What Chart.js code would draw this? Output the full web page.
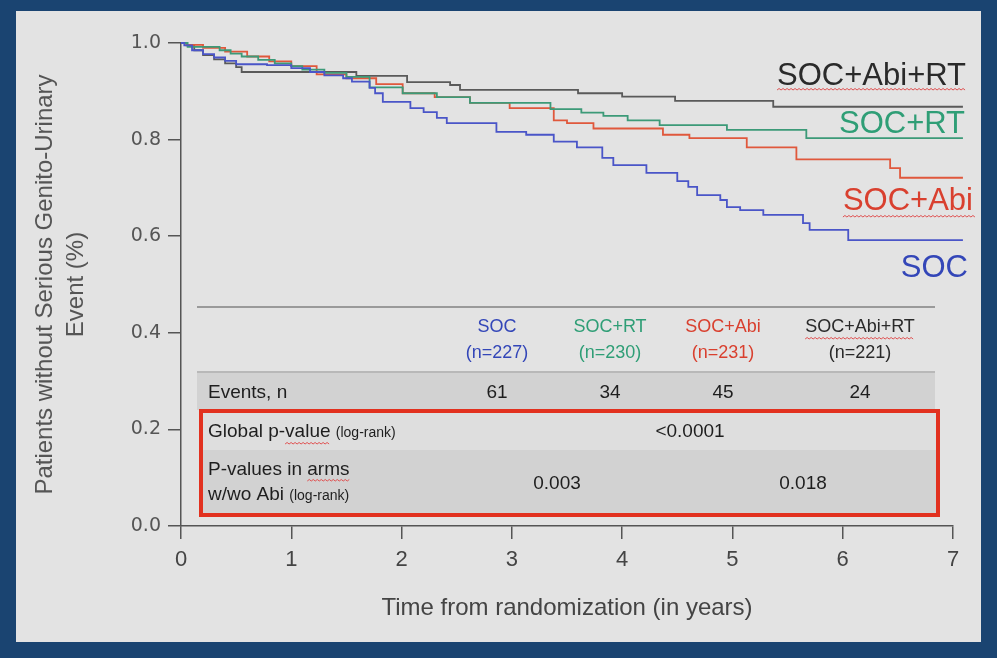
<!DOCTYPE html>
<html>
<head>
<meta charset="utf-8">
<script src="https://cdn.jsdelivr.net/npm/chart.js@4"></script>
<style>
  body { margin: 0; background: #1a4471; }
  #wrap { width: 997px; height: 658px; position: relative; }
</style>
</head>
<body>
<div id="wrap"><canvas id="myChart"></canvas></div>
<script>
// Kaplan-Meier curves (time in years, survival proportion)
const armNames = ['SOC', 'SOC+RT', 'SOC+Abi', 'SOC+Abi+RT'];
const armN = [227, 230, 231, 221];
const armEvents = [61, 34, 45, 24];
const globalP = '<0.0001';
const abiPValues = ['0.003', '0.018'];

const timesSOC = [0, 0.03, 0.1, 0.2, 0.3, 0.4, 0.5, 0.78, 1.0, 1.17, 1.3, 1.47, 1.55, 1.71, 1.76, 1.83, 2.08, 2.2, 2.32, 2.41, 2.86, 3.13, 3.38, 3.59, 3.82, 3.92, 4.22, 4.5, 4.6, 4.68, 4.89, 4.95, 5.07, 5.28, 5.64, 5.7, 6.05, 7.09];
const survSOC = [1, 0.995, 0.985, 0.977, 0.97, 0.963, 0.956, 0.954, 0.948, 0.94, 0.933, 0.927, 0.92, 0.907, 0.896, 0.878, 0.865, 0.857, 0.845, 0.834, 0.816, 0.81, 0.796, 0.784, 0.762, 0.747, 0.731, 0.714, 0.702, 0.685, 0.675, 0.66, 0.654, 0.644, 0.627, 0.613, 0.592, 0.592];

const timesRT = [0, 0.06, 0.35, 0.45, 0.55, 0.7, 0.85, 1.0, 1.1, 1.3, 1.5, 1.71, 2.01, 2.32, 2.62, 3.35, 3.63, 3.83, 4.05, 4.34, 4.95, 5.67, 7.09];
const survRT = [1, 0.992, 0.985, 0.978, 0.972, 0.965, 0.958, 0.952, 0.945, 0.938, 0.93, 0.908, 0.896, 0.888, 0.876, 0.863, 0.856, 0.849, 0.84, 0.83, 0.82, 0.803, 0.803];

const timesAbi = [0, 0.05, 0.2, 0.4, 0.6, 0.8, 1.0, 1.23, 1.5, 1.77, 2.01, 2.3, 2.62, 2.98, 3.38, 3.5, 3.74, 4.37, 4.61, 5.13, 5.58, 6.43, 6.52, 7.09];
const survAbi = [1, 0.996, 0.99, 0.982, 0.972, 0.962, 0.952, 0.935, 0.927, 0.915, 0.896, 0.888, 0.876, 0.865, 0.84, 0.834, 0.823, 0.81, 0.803, 0.784, 0.759, 0.741, 0.721, 0.721];

const timesAbiRT = [0, 0.05, 0.12, 0.2, 0.3, 0.4, 0.5, 0.55, 1.59, 2.05, 2.44, 2.53, 3.6, 4.0, 4.48, 5.37, 7.09];
const survAbiRT = [1, 0.995, 0.985, 0.975, 0.966, 0.958, 0.95, 0.94, 0.932, 0.919, 0.913, 0.903, 0.896, 0.889, 0.88, 0.868, 0.868];

const xTicks = [0, 1, 2, 3, 4, 5, 6, 7];
const yTicks = [0, 0.2, 0.4, 0.6, 0.8, 1.0];

const toPoints = (ts, ss) => ts.map((t, i) => ({x: t, y: ss[i]}));

const lineColors = ['#4a55c8', '#3c9a78', '#e0583c', '#5a5a5a'];
const textColors = ['#3346b8', '#2f9e76', '#d9402f', '#2a2a2a'];

function wavy(ctx, x0, x1, y) {
  ctx.save();
  ctx.strokeStyle = '#e05050';
  ctx.lineWidth = 1;
  ctx.beginPath();
  let up = true;
  ctx.moveTo(x0, y);
  for (let x = x0 + 2; x <= x1; x += 2) {
    ctx.lineTo(x, up ? y - 1.5 : y);
    up = !up;
  }
  ctx.stroke();
  ctx.restore();
}

const backdrop = {
  id: 'backdrop',
  beforeDraw(chart) {
    const ctx = chart.ctx;
    ctx.save();
    ctx.fillStyle = '#1a4471';
    ctx.fillRect(0, 0, chart.width, chart.height);
    ctx.fillStyle = '#e3e3e3';
    ctx.fillRect(16, 11, 965, 631);
    ctx.restore();
  }
};

const overlay = {
  id: 'overlay',
  afterDraw(chart) {
    const ctx = chart.ctx;
    ctx.save();
    // curve labels on the right
    ctx.font = '31px "Liberation Sans", Arial, sans-serif';
    ctx.textAlign = 'right';
    ctx.textBaseline = 'alphabetic';
    const labelPos = [[968, 277], [965, 133], [973, 210], [966, 85]];
    for (let i = 3; i >= 0; i--) {
      ctx.fillStyle = textColors[i];
      ctx.fillText(armNames[i], labelPos[i][0], labelPos[i][1]);
    }
    let w = ctx.measureText(armNames[3]).width;
    wavy(ctx, 966 - w, 966, 90);
    w = ctx.measureText(armNames[2]).width;
    wavy(ctx, 973 - w, 975, 217);

    // table
    ctx.fillStyle = '#d2d2d2';
    ctx.fillRect(197, 373, 738, 37);
    ctx.fillStyle = '#dedede';
    ctx.fillRect(201, 411, 737, 39);
    ctx.fillStyle = '#d2d2d2';
    ctx.fillRect(201, 450, 737, 65);
    ctx.strokeStyle = '#9a9a9a';
    ctx.lineWidth = 2;
    ctx.beginPath();
    ctx.moveTo(197, 307); ctx.lineTo(935, 307);
    ctx.stroke();
    ctx.strokeStyle = '#b8b8b8';
    ctx.beginPath();
    ctx.moveTo(197, 372); ctx.lineTo(935, 372);
    ctx.stroke();
    ctx.strokeStyle = '#e2311f';
    ctx.lineWidth = 4;
    ctx.strokeRect(201, 411, 737, 104);

    const colX = [497, 610, 723, 860];
    ctx.textAlign = 'center';
    ctx.textBaseline = 'middle';
    ctx.font = '18px "Liberation Sans", Arial, sans-serif';
    for (let i = 0; i < 4; i++) {
      ctx.fillStyle = textColors[i];
      ctx.fillText(armNames[i], colX[i], 327);
      ctx.fillText('(n=' + armN[i] + ')', colX[i], 353);
    }
    w = ctx.measureText(armNames[3]).width;
    wavy(ctx, 860 - w / 2, 860 + w / 2, 339);

    ctx.font = '19px "Liberation Sans", Arial, sans-serif';
    ctx.fillStyle = '#1e1e1e';
    for (let i = 0; i < 4; i++) {
      ctx.fillText(String(armEvents[i]), colX[i], 393);
    }
    ctx.fillText(globalP, 690, 432);
    ctx.fillText(abiPValues[0], 557, 484);
    ctx.fillText(abiPValues[1], 803, 484);

    ctx.textAlign = 'left';
    ctx.fillText('Events, n', 208, 393);
    const small = '14px "Liberation Sans", Arial, sans-serif';
    const big = '19px "Liberation Sans", Arial, sans-serif';
    ctx.fillText('Global p-value ', 208, 432);
    let gw = ctx.measureText('Global p-value ').width;
    let vx = 208 + ctx.measureText('Global p-').width;
    let vw = ctx.measureText('value').width;
    wavy(ctx, vx, vx + vw, 444);
    ctx.font = small;
    ctx.fillText('(log-rank)', 208 + gw, 433);
    ctx.font = big;
    ctx.fillText('P-values in arms', 208, 470);
    let ax = 208 + ctx.measureText('P-values in ').width;
    wavy(ctx, ax, ax + ctx.measureText('arms').width, 481);
    ctx.fillText('w/wo Abi ', 208, 495);
    gw = ctx.measureText('w/wo Abi ').width;
    ctx.font = small;
    ctx.fillText('(log-rank)', 208 + gw, 496);
    ctx.restore();
  }
};

new Chart(document.getElementById('myChart'), {
  type: 'line',
  data: {
    datasets: [
      {label: armNames[0], data: toPoints(timesSOC, survSOC), borderColor: lineColors[0]},
      {label: armNames[1], data: toPoints(timesRT, survRT), borderColor: lineColors[1]},
      {label: armNames[2], data: toPoints(timesAbi, survAbi), borderColor: lineColors[2]},
      {label: armNames[3], data: toPoints(timesAbiRT, survAbiRT), borderColor: lineColors[3]}
    ]
  },
  options: {
    responsive: true,
    maintainAspectRatio: false,
    animation: false,
    layout: {padding: {left: 20, top: 43, right: 44, bottom: 20}},
    elements: {
      line: {borderWidth: 1.8, stepped: true, tension: 0},
      point: {radius: 0}
    },
    datasets: {line: {clip: false}},
    plugins: {legend: {display: false}, tooltip: {enabled: false}},
    scales: {
      x: {
        type: 'linear',
        min: 0,
        max: 7,
        afterFit: s => { s.height = 112; },
        afterBuildTicks: s => { s.ticks = xTicks.map(v => ({value: v})); },
        grid: {drawOnChartArea: false, drawTicks: true, tickLength: 13, color: '#555', lineWidth: 1.5},
        border: {color: '#555', width: 1.5},
        ticks: {color: '#444', padding: 8, font: {family: '"Liberation Sans", Arial, sans-serif', size: 22}},
        title: {
          display: true,
          text: 'Time from randomization (in years)',
          color: '#444',
          padding: {top: 4, bottom: 15},
          font: {family: '"Liberation Sans", Arial, sans-serif', size: 24}
        }
      },
      y: {
        min: 0,
        max: 1,
        afterFit: s => { s.width = 161; },
        afterBuildTicks: s => { s.ticks = yTicks.map(v => ({value: v})); },
        grid: {drawOnChartArea: false, drawTicks: true, tickLength: 13, color: '#555', lineWidth: 1.5},
        border: {color: '#555', width: 1.5},
        ticks: {
          color: '#555',
          padding: 7,
          font: {family: '"DejaVu Sans", sans-serif', size: 19},
          callback: v => v.toFixed(1)
        },
        title: {
          display: true,
          text: ['Patients without Serious Genito-Urinary', 'Event (%)'],
          color: '#555',
          padding: {top: 10, bottom: 0},
          font: {family: '"Liberation Sans", Arial, sans-serif', size: 24, lineHeight: 1.3}
        }
      }
    }
  },
  plugins: [backdrop, overlay]
});
</script>
</body>
</html>
